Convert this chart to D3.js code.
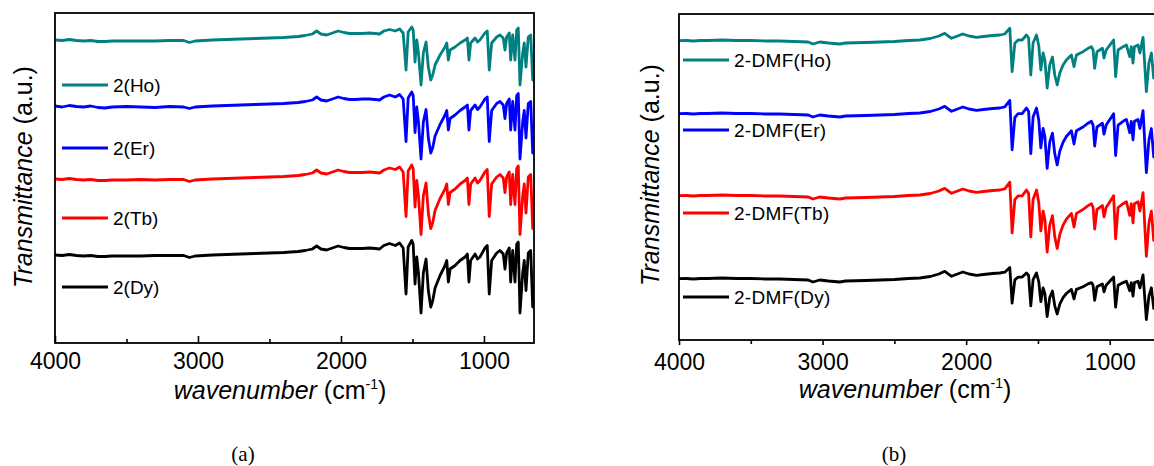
<!DOCTYPE html>
<html><head><meta charset="utf-8">
<script src="https://cdn.jsdelivr.net/npm/d3@7"></script>
<style>body{margin:0;background:#fff} svg{display:block}</style>
</head><body><svg id="c" width="1154" height="466"></svg>
<script>
// ---------- data ----------
const xMajorTicks = [4000, 3000, 2000, 1000];
const xMinorTicks = [3500, 2500, 1500];
const colors = ["#008080", "#0000ff", "#ff0000", "#000000"];
const namesA = ["2(Ho)", "2(Er)", "2(Tb)", "2(Dy)"];
const namesB = ["2-DMF(Ho)", "2-DMF(Er)", "2-DMF(Tb)", "2-DMF(Dy)"];

// panel (a) wavenumbers (cm-1)
const wnA = [4000,3950,3900,3850,3800,3750,3700,3650,3600,3500,3400,3300,3200,3100,3060,3020,2900,2800,2700,2600,2500,2400,2300,2250,2200,2170,2140,2100,2060,2020,1980,1940,1900,1850,1800,1760,
1730,1700,1660,1620,1590,1565,1545,1530,1505,1495,1482,1470,1458,1440,1424,1405,1389,1372,1358,1342,1307,1272,1260,1249,1237,1202,1167,1132,1116,1105,1093,1062,1045,1028,993,977,963,946,911,888,865,853,841,823,813,799,783,771,760,748,729,718,706,690,673,659,650];
// panel (a) transmittance (a.u., stacked)
const hoA = [306,305.5,306.5,305.5,305,305.5,304.5,304.5,305,305,305,305,305.5,305.5,303.5,305,306,306.5,307,307.5,308,308.5,309.5,310.5,312,315,312,311,313,315,313.5,312.5,312.5,312.5,313,312.5,
312,315,316.5,315,317,313,276,314,319,316,284,306,293,261,293,304,279,266,271,281,291,299,303,286,296,299,303,306,308,286,303,308,304,306,313,315,276,303,309,311,308,296,309,313,286,311,286,316,318,261,293,303,279,309,311,266,286];
const erA = [240,239,240.5,239.5,239,240,238.5,238,239,239.5,239,238.5,239.5,239,237.5,239,240,240.5,241,241.5,242,242.5,243.5,244.5,246,249,246,245,247,249,247.5,246.5,246.5,247,247,246.5,
246,249,251,249,251.5,247,204.5,248,254,250.5,213.5,239,224,187,224,236.5,208,193,198.5,210,221.5,231,235.5,216,227.5,231,235.5,239,241,216,235.5,241,236.5,239,247,249,204.5,235.5,242.5,244.5,241,227.5,242.5,247,216,244.5,216,250.5,252.5,187,224,235.5,208,242.5,244.5,193,216];
const tbA = [167,166.5,167.5,166.5,166,166.5,165.5,165.5,166,166,166.5,166,166.5,166.5,164.5,166,167,167.5,168,168.5,169,169.5,170.5,171.5,173,176,173,172,174,176,174.5,173.5,173.5,173.5,174,173.5,
173,176,178,176.5,179,174,129.5,175,181,177.5,139,165.5,150,111.5,150,163,133,117.5,123.5,135.5,147.5,157,162,141.5,153.5,157,162,165.5,168,141.5,162,168,163,165.5,174,176.5,129.5,162,169,171.5,168,153.5,169,174,141.5,171.5,141.5,177.5,180,111.5,150,162,133,169,171.5,117.5,141.5];
const dyA = [91,90.5,91.5,90.5,90,90.5,89.5,89.5,90,90,90,90.5,90.5,90.5,88.5,90,91,91.5,92,92.5,93,93.5,94.5,95.5,97,100,97,96,98,100,98.5,97.5,97.5,97.5,98,97.5,
97,100.5,102.5,100.5,103,98,52,99,105.5,102,62,89,73,33,73,87,55.5,39,45.5,58,70.5,80.5,85.5,64,77,80.5,85.5,89,92,64,85.5,92,87,89,98,100.5,52,85.5,93,95.5,92,77,93,98,64,95.5,64,102,104,33,73,85.5,55.5,93,95.5,39,64];

// panel (b) wavenumbers (cm-1)
const wnB = [4000,3950,3900,3850,3800,3700,3600,3500,3400,3300,3200,3100,3067,3020,2960,2880,2840,2700,2600,2500,2400,2323,2250,2190,2149,2102,2060,2023,1980,1928,1880,1815,1766,
1731,1696,1680,1661,1638,1610,1580,1565,1550,1534,1510,1494,1480,1464,1452,1436,1418,1399,1383,1366,1348,1325,1302,1267,1249,1232,1186,1151,1128,1116,1105,1089,1051,1040,1025,990,973,959,942,907,884,861,850,838,828,803,790,768,745,727,710,694,670,650];
const hoB = [296.3,296.5,296,296.5,296.5,297,296.5,296.5,296,296,295.5,295,293,295,294,293,294,294.5,295,295.5,296.5,297,298.5,301,303.7,298.7,301,303,301,299.7,300.5,301.5,302,
303,308.7,265.3,293.7,297,297,302,299,262,294,302,291,267,284,277,249,272,280,262,252,264,272,277,282,270.3,282,285.3,288.7,290.3,287,268.7,285.3,288.7,279,287,293.7,297,260.3,287,290.3,292,280.3,290.3,274,290.3,292,284,299.7,245.3,274,284,259,287,277];
const erB = [223.3,223.5,223,223.5,223.5,224,223.5,223.5,223,223,222.5,222,220,222,221,220,221,221.5,222,222.5,223.5,224,225.5,228,230.7,225.7,228,230,228,226.7,227.5,228.5,229,
230.1,236.6,187.2,219.5,223.3,223.3,229,225.6,183.4,219.9,229,216.5,189.1,208.5,200.5,168.6,194.8,203.9,183.4,172,185.7,194.8,200.5,206.2,192.9,206.2,210,213.8,215.7,211.9,191,210,213.8,202.8,211.9,219.5,223.3,181.5,211.9,215.7,217.6,204.3,215.7,197.1,215.7,217.6,208.5,226.4,164.4,197.1,208.5,180,211.9,200.5];
const tbB = [141.3,141.5,141,141.5,141.5,142,141.5,141.5,141,141,140.5,140,138,140,139,138,139,139.5,140,140.5,141.5,142,143.5,146,148.7,143.7,146,148,146,144.7,145.5,146.5,147,
148.2,154.8,104.1,137.3,141.2,141.2,147,143.5,100.2,137.6,147,134.1,106.1,125.9,117.8,85,111.9,121.3,100.2,88.5,102.5,111.9,117.8,123.6,109.9,123.6,127.5,131.4,133.3,129.5,108,127.5,131.4,120.1,129.5,137.3,141.2,98.2,129.5,133.3,135.3,121.6,133.3,114.2,133.3,135.3,125.9,144.3,80.7,114.2,125.9,96.7,129.5,117.8];
const dyB = [58.3,58.5,58,58.5,58.5,59,58.5,58.5,58,58,57.5,57,55,57,56,55,56,56.5,57,57.5,58.5,59,60.5,63,65.7,60.7,63,65,63,61.7,62.5,63.5,64,
64.8,69.5,33.9,57.2,59.9,59.9,64,61.5,31.2,57.4,64,55,35.3,49.2,43.5,20.5,39.4,46,31.2,23,32.8,39.4,43.5,47.6,38,47.6,50.3,53.1,54.4,51.7,36.7,50.3,53.1,45.1,51.7,57.2,59.9,29.8,51.7,54.4,55.8,46.2,54.4,41,54.4,55.8,49.2,62.1,17.5,41,49.2,28.7,51.7,43.5];

// ---------- drawing ----------
const svg = d3.select("#c");
const SANS = "'Liberation Sans', Arial, Helvetica, sans-serif";

function panel(cfg) {
  const g = svg.append("g");
  const x = d3.scaleLinear().domain([4000, 650]).range([cfg.left, cfg.right]);
  const y = d3.scaleLinear().domain(cfg.yDomain).range([cfg.bottom, cfg.top]);
  const clipId = "clip" + cfg.id;
  svg.append("defs").append("clipPath").attr("id", clipId)
    .append("rect").attr("x", cfg.left).attr("y", cfg.top)
    .attr("width", cfg.right - cfg.left).attr("height", cfg.bottom - cfg.top);

  const line = d3.line().x((d, i) => x(cfg.wn[i])).y(d => y(d));
  const lg = g.append("g").attr("clip-path", `url(#${clipId})`);
  cfg.series.forEach((s, k) => {
    lg.append("path").datum(s).attr("d", line)
      .attr("fill", "none").attr("stroke", colors[k])
      .attr("stroke-width", 2.8).attr("stroke-linejoin", "round");
  });

  // frame
  g.append("rect").attr("x", cfg.left).attr("y", cfg.top)
    .attr("width", cfg.right - cfg.left).attr("height", cfg.bottom - cfg.top)
    .attr("fill", "none").attr("stroke", "#000").attr("stroke-width", 1.8);

  // axis
  const ax = g.append("g").attr("transform", `translate(0,${cfg.bottom})`)
    .call(d3.axisBottom(x).tickValues(xMajorTicks).tickSize(cfg.majorTick)
      .tickPadding(cfg.pad).tickFormat(d3.format("d")));
  ax.select(".domain").remove();
  ax.selectAll("line").attr("stroke-width", 1.6);
  ax.selectAll("text").attr("font-family", SANS).attr("font-size", 23).attr("fill", "#000");
  const mx = g.append("g").attr("transform", `translate(0,${cfg.bottom})`)
    .call(d3.axisBottom(x).tickValues(xMinorTicks).tickSize(cfg.minorTick).tickFormat(""));
  mx.select(".domain").remove();
  mx.selectAll("line").attr("stroke-width", 1.6);

  // legend
  cfg.names.forEach((n, k) => {
    const ly = cfg.legendY[k];
    g.append("line").attr("x1", cfg.legX1).attr("x2", cfg.legX2)
      .attr("y1", ly).attr("y2", ly).attr("stroke", colors[k]).attr("stroke-width", 2.8);
    g.append("text").attr("x", cfg.legX2 + 5).attr("y", ly).attr("dy", "0.35em")
      .attr("font-family", SANS).attr("font-size", 19).attr("letter-spacing", cfg.ls)
      .text(n);
  });

  // y title
  const yt = g.append("text").attr("transform", `translate(${cfg.yTitleX},${cfg.yTitleY}) rotate(-90)`)
    .attr("text-anchor", "middle").attr("font-family", SANS).attr("font-size", 25);
  yt.append("tspan").attr("font-style", "italic").text("Transmittance");
  yt.append("tspan").text(" (a.u.)");

  // x title
  const xt = g.append("text").attr("x", cfg.xTitleX).attr("y", cfg.xTitleY)
    .attr("text-anchor", "middle").attr("font-family", SANS).attr("font-size", 25);
  xt.append("tspan").attr("font-style", "italic").text("wavenumber");
  xt.append("tspan").text(" (cm");
  xt.append("tspan").attr("font-size", 14).attr("dy", -10).text("-1");
  xt.append("tspan").attr("dy", 10).text(")");

  // caption
  g.append("text").attr("x", cfg.capX).attr("y", 461).attr("text-anchor", "middle")
    .attr("font-family", "'Liberation Serif', 'Times New Roman', serif").attr("font-size", 21)
    .text(cfg.caption);
}

panel({
  id: "a", left: 55, right: 534, top: 13, bottom: 343, yDomain: [3, 333],
  wn: wnA, series: [hoA, erA, tbA, dyA], names: namesA,
  majorTick: -7, minorTick: -4, pad: 10,
  legX1: 62, legX2: 108, legendY: [85, 148, 218, 287], ls: 0,
  yTitleX: 32, yTitleY: 177, xTitleX: 280, xTitleY: 399,
  capX: 243, caption: "(a)"
});
panel({
  id: "b", left: 679, right: 1160, top: 14, bottom: 340, yDomain: [-3, 323],
  wn: wnB, series: [hoB, erB, tbB, dyB], names: namesB,
  majorTick: 5, minorTick: 4, pad: 9,
  legX1: 683, legX2: 729, legendY: [60, 130, 213, 297], ls: 0.3,
  yTitleX: 659, yTitleY: 175, xTitleX: 905, xTitleY: 398,
  capX: 894, caption: "(b)"
});
</script></body></html>
